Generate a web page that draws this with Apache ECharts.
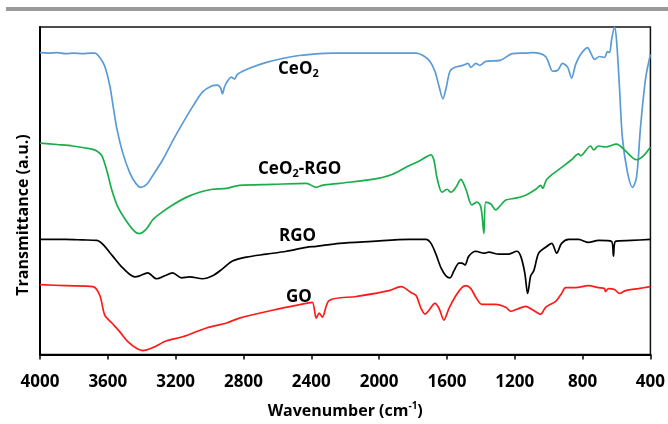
<!DOCTYPE html>
<html>
<head>
<meta charset="utf-8">
<script src="https://cdn.jsdelivr.net/npm/echarts@6/dist/echarts.min.js"></script>
<style>html,body{margin:0;padding:0;background:#fff;}#c{width:668px;height:424px;}</style>
</head>
<body>
<div id="c"></div>
<script>
// Wavenumber (cm-1) and transmittance (a.u.)
const xTicks = [4000, 3600, 3200, 2800, 2400, 2000, 1600, 1200, 800, 400];

const ceo2Wn = [4000,3950,3900,3850,3800,3750,3700,3676,3647,3618,3588,3571,3547,3512,3471,3435,3406,3371,3335,3276,3218,3159,3100,3041,2988,2953,2935,2924,2912,2894,2871,2853,2835,2765,2665,2571,2471,2353,2276,2000,1782,1741,1700,1671,1647,1624,1606,1582,1553,1506,1476,1459,1429,1406,1371,1288,1212,1135,1094,1018,976,947,918,888,865,841,812,771,753,729,700,671,653,641,629,612,600,582,565,535,506,482,459,429,400];
const ceo2T  = [307,306.5,307,306,306.5,306,306.5,306.5,302,293,273,255,230,205,185,174,170,173,182,198,217,235,252,267,273,274,271,265,272,278,282,280,285,291,297,301,304,306,306.5,306.5,306.5,304,298,288,273,260,270,288,292,294,296,292,296,294,298,299,306,306.5,307,303,288,289,296,292,281,295,305,312,307,300,303,302,308,307,320,333,320,270,220,185,170,180,230,280,305];

const ceo2rgoWn = [4000,3900,3806,3700,3665,3635,3606,3576,3541,3488,3441,3412,3371,3335,3294,3218,3135,3059,2982,2900,2824,2629,2429,2371,2335,2235,2041,1924,1824,1760,1694,1676,1659,1629,1600,1576,1547,1518,1488,1453,1424,1400,1382,1371,1341,1312,1282,1253,1194,1135,1076,1047,1035,1012,941,865,824,812,753,735,706,665,600,547,482,441,400];
const ceo2rgoT  = [215,213.5,212,209,207,202,187,167,150,135,125,123,128,137,143,152,160,165,168,169,172,173,174,170,172,174,178,183,192,197,203,197,180,165,168,165,170,178,168,152,155,150,123,155,153,147,152,157,159,162,168,172,169,178,188,198,204,202,212,208,212,211,214,207,198,202,211];

const rgoWn = [4000,3850,3750,3665,3629,3571,3512,3441,3412,3365,3312,3265,3218,3165,3118,3041,2982,2924,2865,2782,2665,2547,2429,2371,2235,2041,1824,1724,1694,1665,1635,1606,1582,1559,1529,1512,1494,1471,1429,1382,1353,1294,1235,1188,1165,1141,1124,1106,1088,1059,1018,982,953,924,882,824,765,706,629,618,606,512,400];
const rgoT  = [117,117,116.5,116,112,100,88,79,80,83,77,80,83,78,79,77,80,87,95,99,102,105,109,110,113,115,117,117,113,102,88,80,78,85,93,93,91,100,105,103,104,102,102,105,100,83,62,80,85,103,109,113,103,113,117,117,114,116,115,100,115,116,117];

const goWn = [4000,3850,3688,3647,3618,3576,3529,3482,3429,3394,3335,3253,3159,3018,2900,2824,2629,2429,2394,2371,2353,2335,2294,2135,1941,1871,1853,1812,1782,1753,1729,1706,1671,1647,1618,1588,1547,1512,1488,1459,1429,1394,1312,1253,1224,1188,1135,1100,1047,1018,959,924,900,841,765,706,671,665,647,612,582,547,471,400];
const goT  = [71,70,69,60,40,32,23,13,6,4,7,14,18,27,32,37,45,52,53,37,42,38,55,59,65,69,68,63,60,47,41,45,52,47,35,47,60,68,70,67,58,51,51,48,44,46,49,46,41,48,54,62,68,68,70,68,67,64,67,66,62,65,67,69];

const seriesNames = ['CeO2', 'CeO2-RGO', 'RGO', 'GO'];

function zip(a, b) { return a.map((v, i) => [v, b[i]]); }

const FONT = 'Open Sans';
const chart = echarts.init(document.getElementById('c'), null, {renderer: 'canvas'});

function mkLine(name, wn, t, color) {
  return {
    name: name, type: 'line', data: zip(wn, t), showSymbol: false,
    smooth: 0.3,
    lineStyle: {color: color, width: 1.7}, itemStyle: {color: color},
    silent: true, animation: false
  };
}

const labelStyle = {
  n: {fontFamily: FONT, fontWeight: 'bold', fontSize: 17, fill: '#000', color: '#000'},
  s: {fontFamily: FONT, fontWeight: 'bold', fontSize: 11, fill: '#000', color: '#000', padding: [10, 0, 0, 0]}
};

function mkLabel(x, y, text) {
  return {
    type: 'text', x: x, y: y, silent: true,
    style: {text: text, rich: labelStyle, textVerticalAlign: 'middle', textAlign: 'left',
            font: 'bold 17px ' + FONT, fill: '#000'}
  };
}

chart.setOption({
  animation: false,
  backgroundColor: '#fff',
  grid: {left: 40, right: 16, top: 27, bottom: 64, show: true, borderColor: '#111', borderWidth: 1.5, containLabel: false},
  xAxis: {
    type: 'value', inverse: true, min: 400, max: 4000, interval: 400,
    axisLine: {show: true, onZero: false, lineStyle: {color: '#000', width: 2}},
    axisTick: {show: true, length: 5, lineStyle: {color: '#000', width: 1.5}},
    axisLabel: {color: '#000', fontFamily: FONT, fontWeight: 'bold', fontSize: 17, margin: 19,
      formatter: function (v) { return xTicks.indexOf(v) >= 0 ? String(v) : ''; }},
    splitLine: {show: false},
    name: '{n|Wavenumber (cm}{sup|-1}{n|)}', nameLocation: 'middle', nameGap: 47,
    nameTextStyle: {color: '#000', fontFamily: FONT, fontWeight: 'bold', fontSize: 16,
      rich: {
        n: {color: '#000', fontFamily: FONT, fontWeight: 'bold', fontSize: 16},
        sup: {color: '#000', fontFamily: FONT, fontWeight: 'bold', fontSize: 10, padding: [0, 0, 9, 0]}
      }}
  },
  yAxis: {
    type: 'value', min: 0, max: 333,
    axisLine: {show: true, lineStyle: {color: '#000', width: 2}},
    axisTick: {show: false}, axisLabel: {show: false}, splitLine: {show: false}
  },
  series: [
    mkLine(seriesNames[0], ceo2Wn, ceo2T, '#5b9bd5'),
    mkLine(seriesNames[1], ceo2rgoWn, ceo2rgoT, '#1aae4a'),
    mkLine(seriesNames[2], rgoWn, rgoT, '#000000'),
    mkLine(seriesNames[3], goWn, goT, '#ff1a1a')
  ],
  graphic: [
    {type: 'rect', silent: true, shape: {x: 6, y: 7, width: 662, height: 4}, style: {fill: '#9a9a9a'}},
    {type: 'text', x: 23, y: 215, rotation: Math.PI / 2, silent: true,
     style: {text: 'Transmittance (a.u.)', font: 'bold 16px ' + FONT, fill: '#000', textAlign: 'center', textVerticalAlign: 'middle'}},
    mkLabel(278, 69, '{n|CeO}{s|2}'),
    mkLabel(258, 169, '{n|CeO}{s|2}{n|-RGO}'),
    mkLabel(279, 236, '{n|RGO}'),
    mkLabel(286, 297, '{n|GO}')
  ]
});
</script>
</body>
</html>
